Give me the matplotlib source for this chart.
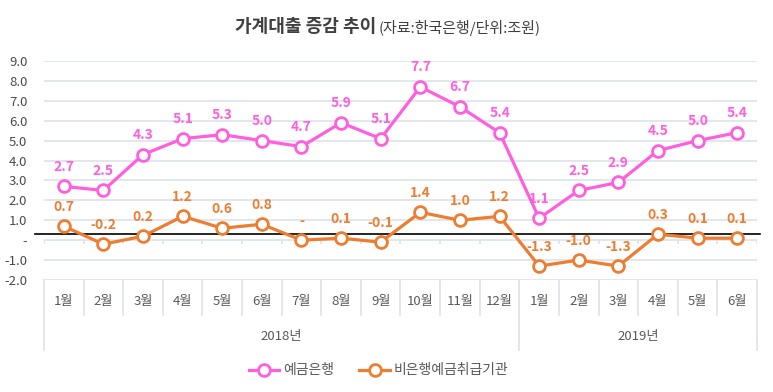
import numpy as np
import matplotlib
matplotlib.use("Agg")
import matplotlib.pyplot as plt
from matplotlib.lines import Line2D

plt.rcParams['font.family'] = ['Noto Sans CJK KR', 'DejaVu Sans']

# data (unit: 조원)
months = ['1월', '2월', '3월', '4월', '5월', '6월', '7월', '8월', '9월', '10월', '11월', '12월',
          '1월', '2월', '3월', '4월', '5월', '6월']
years = ['2018년', '2019년']
year_counts = [12, 6]
bank = [2.7, 2.5, 4.3, 5.1, 5.3, 5.0, 4.7, 5.9, 5.1, 7.7, 6.7, 5.4,
        1.1, 2.5, 2.9, 4.5, 5.0, 5.4]
nonbank = [0.7, -0.2, 0.2, 1.2, 0.6, 0.8, 0.0, 0.1, -0.1, 1.4, 1.0, 1.2,
           -1.3, -1.0, -1.3, 0.3, 0.1, 0.1]
ref_line = 0.3

pink = '#FF5FDF'
orange = '#ED7D31'
grid_c = '#DDE2EA'
text_c = '#595959'


def fmt(v):
    # excel style: zero shows as "-"
    if abs(v) < 1e-9:
        return '-'
    return '%.1f' % v


fig = plt.figure(figsize=(7.73, 3.92), dpi=100)
ax = fig.add_axes([44 / 773, 112 / 392, 713 / 773, 219 / 392])

x = np.arange(len(months))

ax.plot(x, bank, '-o', color=pink, lw=2.3, ms=8.5, mfc='white', mec=pink, mew=2.0,
        label='예금은행', zorder=4)
ax.plot(x, nonbank, '-o', color=orange, lw=2.3, ms=8.5, mfc='white', mec=orange, mew=2.0,
        label='비은행예금취급기관', zorder=4)

for xi, v in zip(x, bank):
    ax.annotate(fmt(v), (xi, v), xytext=(0, 14), textcoords='offset points',
                ha='center', va='center', color=pink, fontsize=10, fontweight='bold', zorder=5)
for xi, v in zip(x, nonbank):
    ax.annotate(fmt(v), (xi, v), xytext=(0, 14), textcoords='offset points',
                ha='center', va='center', color=orange, fontsize=10, fontweight='bold', zorder=5)

ax.set_xlim(-0.5, len(months) - 0.5)
ax.set_ylim(-2, 9)
ax.set_yticks(np.arange(-2, 10, 1))
ax.set_yticklabels([fmt(v) for v in np.arange(-2, 10, 1)], color='#4a4a4a', fontsize=9.5)
ax.tick_params(axis='y', length=0, pad=12)
ax.set_xticks([])
ax.grid(axis='y', color=grid_c, lw=1.2)
ax.set_axisbelow(True)
for s in ax.spines.values():
    s.set_visible(False)

# reference line
ax.axhline(ref_line, xmin=-0.013, xmax=1.004, color='black', lw=1.2, clip_on=False, zorder=3)

# small category ticks on the zero line
bounds = np.arange(len(months) + 1) - 0.5
ax.vlines(bounds, -0.2, 0, color=grid_c, lw=1.2, zorder=1)

# multi-level category axis below the plot
trans = ax.get_xaxis_transform()
for xi, m in zip(x, months):
    ax.text(xi, -0.10, m, transform=trans, ha='center', va='center',
            color=text_c, fontsize=9.5)
long_b = [-0.5]
pos = -0.5
for y, n in zip(years, year_counts):
    ax.text(pos + n / 2, -0.26, y, transform=trans, ha='center', va='center',
            color=text_c, fontsize=9.5)
    pos += n
    long_b.append(pos)
for b in bounds:
    low = -0.32 if any(abs(b - lb) < 1e-9 for lb in long_b) else -0.16
    ax.add_line(Line2D([b, b], [0, low], transform=trans, color=grid_c, lw=1.2,
                       clip_on=False))

# title
fig.text(0.487, 0.932, '가계대출 증감 추이', ha='right', va='center',
         fontsize=13, fontweight='bold', color='#404040')
fig.text(0.490, 0.928, '(자료:한국은행/단위:조원)', ha='left', va='center',
         fontsize=10.8, color='#404040')

leg = fig.legend(loc='center', bbox_to_anchor=(0.49, 0.055), ncol=2, frameon=False,
                 fontsize=10, handlelength=2.2, columnspacing=1.8, handletextpad=0.3)
for t in leg.get_texts():
    t.set_color(text_c)

fig.savefig('out.png', dpi=100)
